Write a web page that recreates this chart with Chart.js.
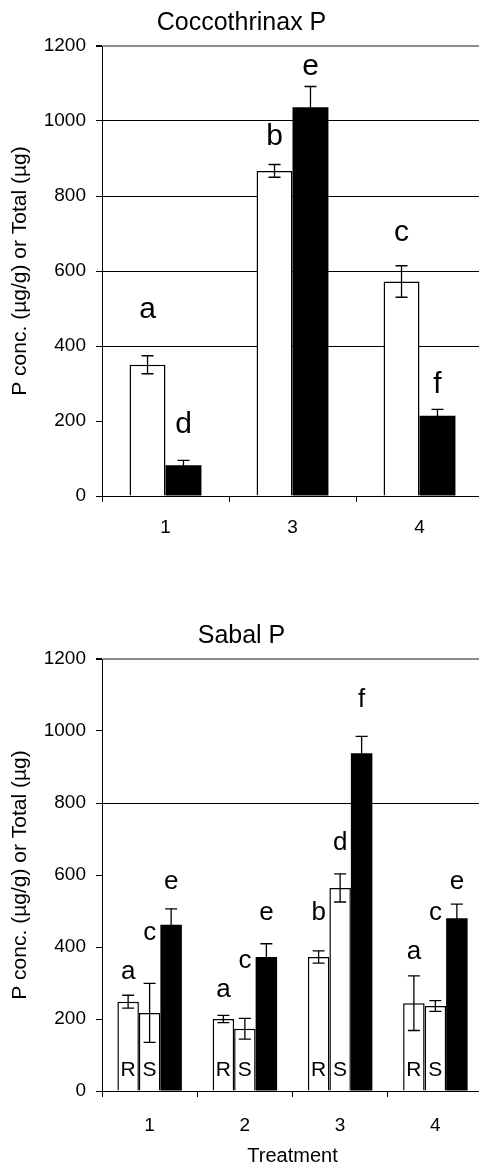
<!DOCTYPE html>
<html>
<head>
<meta charset="utf-8">
<script src="https://cdn.jsdelivr.net/npm/chart.js@4.4.0/dist/chart.umd.min.js"></script>
<style>
  html, body { margin: 0; padding: 0; background: #fff; overflow: hidden; width: 479px; height: 1166px; }
  .box { position: absolute; left: 0; }
  #box1 { top: 0; }
  #box2 { top: 613px; }
</style>
</head>
<body>
<div class="box" id="box1"><canvas id="coc" width="483" height="546"></canvas></div>
<div class="box" id="box2"><canvas id="sabal" width="483" height="553"></canvas></div>
<script>
// Coccothrinax P
const cocTreatments = ['1', '3', '4'];
const cocConc = [350, 867, 572];
const cocConcErr = [24, 17, 42];
const cocConcLetters = ['a', 'b', 'c'];
const cocConcLetterAt = [496, 957, 701];
const cocTotal = [82, 1037, 214];
const cocTotalErr = [13, 55, 17];
const cocTotalLetters = ['d', 'e', 'f'];
const cocTotalLetterAt = [189, 1144, 296];
const cocGridValues = [400, 600, 800, 1000];

// Sabal P
const sabalTreatments = ['1', '2', '3', '4'];
const sabalRoot = [248, 200, 372, 244];
const sabalRootErr = [18, 10, 17, 76];
const sabalRootLetters = ['a', 'a', 'b', 'a'];
const sabalRootLetterAt = [331, 281, 494, 386];
const sabalShoot = [217, 173, 564, 236];
const sabalShootErr = [82, 29, 39, 15];
const sabalShootLetters = ['c', 'c', 'd', 'c'];
const sabalShootLetterAt = [439, 361, 690, 494];
const sabalTotal = [462, 372, 938, 480];
const sabalTotalErr = [44, 37, 47, 39];
const sabalTotalLetters = ['e', 'e', 'f', 'e'];
const sabalTotalLetterAt = [581, 494, 1086, 581];
const sabalGridValues = [800];
const tissueLabelAt = 57;

const yTicks = [0, 200, 400, 600, 800, 1000, 1200];
const yTitle = 'P conc. (\u00b5g/g) or Total (\u00b5g)';
const FONT = "'Liberation Sans', Arial, sans-serif";

Chart.defaults.font.family = FONT;
Chart.defaults.color = '#000';

// error bars + significance letters + R/S tags
const annotate = {
  id: 'annotate',
  afterDatasetsDraw(chart, args, opts) {
    const { ctx, scales: { y } } = chart;
    ctx.save();
    chart.data.datasets.forEach((ds, di) => {
      const meta = chart.getDatasetMeta(di);
      meta.data.forEach((bar, i) => {
        const v = ds.data[i], e = ds.errors[i];
        const yt = y.getPixelForValue(v + e), yb = y.getPixelForValue(v - e);
        const x = bar.x, cap = 6;
        ctx.strokeStyle = '#000';
        ctx.lineWidth = 1.3;
        ctx.beginPath();
        ctx.moveTo(x, yt); ctx.lineTo(x, yb);
        ctx.moveTo(x - cap, yt); ctx.lineTo(x + cap, yt);
        ctx.moveTo(x - cap, yb); ctx.lineTo(x + cap, yb);
        ctx.stroke();

        ctx.fillStyle = '#000';
        ctx.textAlign = 'center';
        ctx.textBaseline = 'middle';
        ctx.font = opts.letterSize + 'px ' + FONT;
        ctx.fillText(ds.letters[i], x, y.getPixelForValue(ds.letterAt[i]));

        if (ds.tag) {
          ctx.font = '21px ' + FONT;
          ctx.fillText(ds.tag, x, y.getPixelForValue(tissueLabelAt));
        }
      });
    });
    ctx.restore();
  }
};

function makeChart(id, opts) {
  return new Chart(document.getElementById(id), {
    type: 'bar',
    data: { labels: opts.labels, datasets: opts.datasets },
    plugins: [annotate],
    options: {
      responsive: false,
      animation: false,
      layout: { padding: 0 },
      datasets: { bar: { barPercentage: 1, categoryPercentage: opts.catPct } },
      plugins: {
        legend: { display: false },
        tooltip: { enabled: false },
        title: {
          display: true,
          text: opts.title,
          font: { size: 25, weight: 'normal', lineHeight: 1.2 },
          color: '#000',
          padding: { top: 8, bottom: 8 }
        },
        annotate: { letterSize: opts.letterSize }
      },
      scales: {
        x: {
          afterFit: s => { s.height = opts.xHeight; },
          grid: { offset: true, drawOnChartArea: false, tickLength: 6, tickColor: '#000', tickWidth: 1 },
          border: { color: '#000', width: 1 },
          ticks: { font: { size: 19 }, color: '#000', padding: opts.xPad },
          title: opts.xTitle ? {
            display: true, text: opts.xTitle, color: '#000',
            font: { size: 20, lineHeight: 1 }, padding: { top: 0, bottom: 0 }
          } : { display: false }
        },
        y: {
          min: 0, max: 1200,
          afterFit: s => { s.width = 102; },
          afterBuildTicks: s => { s.ticks = yTicks.map(v => ({ value: v })); },
          grid: {
            tickLength: 6,
            tickColor: '#000',
            color: c => c.tick.value === 1200 ? '#8c8c8c' : (opts.gridValues.includes(c.tick.value) ? '#000' : 'rgba(0,0,0,0)'),
            lineWidth: c => c.tick.value === 1200 ? 2 : 1
          },
          border: { color: '#000', width: 1 },
          ticks: { font: { size: 19 }, color: '#000', padding: 10, callback: v => String(v) },
          title: {
            display: true, text: yTitle, color: '#000',
            font: { size: 21, lineHeight: 1.2 }, padding: { top: 8, bottom: 0 }
          }
        }
      }
    }
  });
}

makeChart('coc', {
  title: 'Coccothrinax P',
  labels: cocTreatments,
  catPct: 0.566,
  letterSize: 30,
  xHeight: 50,
  xPad: 14,
  gridValues: cocGridValues,
  datasets: [
    { label: 'Conc.', data: cocConc, errors: cocConcErr, letters: cocConcLetters, letterAt: cocConcLetterAt,
      backgroundColor: '#fff', borderColor: '#000', borderWidth: 1.5 },
    { label: 'Total', data: cocTotal, errors: cocTotalErr, letters: cocTotalLetters, letterAt: cocTotalLetterAt,
      backgroundColor: '#000', borderColor: '#000', borderWidth: 0 }
  ]
});

makeChart('sabal', {
  title: 'Sabal P',
  labels: sabalTreatments,
  catPct: 0.677,
  letterSize: 26,
  xHeight: 75,
  xPad: 17,
  xTitle: 'Treatment',
  gridValues: sabalGridValues,
  datasets: [
    { label: 'Root', data: sabalRoot, errors: sabalRootErr, letters: sabalRootLetters, letterAt: sabalRootLetterAt, tag: 'R',
      backgroundColor: '#fff', borderColor: '#000', borderWidth: 1.5 },
    { label: 'Shoot', data: sabalShoot, errors: sabalShootErr, letters: sabalShootLetters, letterAt: sabalShootLetterAt, tag: 'S',
      backgroundColor: '#fff', borderColor: '#000', borderWidth: 1.5 },
    { label: 'Total', data: sabalTotal, errors: sabalTotalErr, letters: sabalTotalLetters, letterAt: sabalTotalLetterAt,
      backgroundColor: '#000', borderColor: '#000', borderWidth: 0 }
  ]
});
</script>
</body>
</html>
